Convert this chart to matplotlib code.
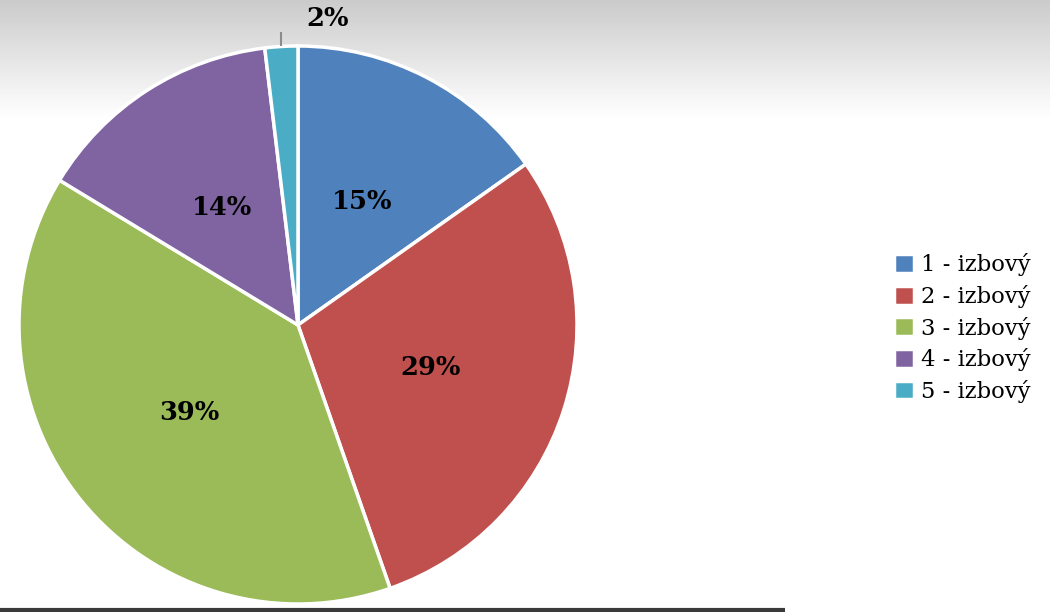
import matplotlib.pyplot as plt
import numpy as np

# share of flats by number of rooms
labels = ['1 - izbový', '2 - izbový', '3 - izbový', '4 - izbový', '5 - izbový']
shares = [15.2, 29.4, 39.0, 14.4, 1.9]
colors = ['#4F81BD', '#C0504D', '#9BBB59', '#8064A2', '#4BACC6']

fig = plt.figure(figsize=(10.5, 6.12), dpi=100)

# gray to white gradient at the top of the slide
bg = fig.add_axes([0, 0, 1, 1], zorder=0)
grad = np.ones((612, 1))
grad[:120, 0] = np.linspace(0.75, 1.0, 120) ** 0.8
bg.imshow(grad, cmap='gray', vmin=0, vmax=1, aspect='auto', extent=[0, 1, 0, 1])
bg.plot([0, 0.748], [0.003, 0.003], color='#3a3a3a', lw=3, solid_capstyle='butt')
bg.set_xlim(0, 1)
bg.set_ylim(0, 1)
bg.axis('off')

ax = fig.add_axes([19 / 1050, 8 / 612, 558 / 1050, 558 / 612], zorder=1)
ax.patch.set_alpha(0)
wedges, texts, autotexts = ax.pie(shares, colors=colors, startangle=90, counterclock=False,
                                  autopct='%.0f%%', pctdistance=0.5, radius=1,
                                  wedgeprops=dict(edgecolor='white', linewidth=2.5),
                                  textprops=dict(family='DejaVu Serif', fontweight='bold',
                                                 fontsize=18.5, color='black'))

# small slice: label outside with a short leader line
w = wedges[-1]
ang = np.deg2rad((w.theta1 + w.theta2) / 2)
x0, y0 = np.cos(ang), np.sin(ang)
ax.plot([x0, x0], [y0 * 1.005, y0 * 1.05], color='#8c8c8c', lw=1.5, clip_on=False)
autotexts[-1].set_position((x0 * 1.1 + 0.17, y0 * 1.1))

ax.set_xlim(-1, 1)
ax.set_ylim(-1, 1)
ax.set_aspect('equal')
ax.axis('off')

leg = fig.legend(wedges, labels, loc='center left', bbox_to_anchor=(0.832, 0.464),
                 frameon=False, prop=dict(family='DejaVu Serif', size=16.3),
                 handlelength=0.9, handleheight=0.9, handletextpad=0.3, labelspacing=0.38)

fig.savefig('out.png', dpi=100)
